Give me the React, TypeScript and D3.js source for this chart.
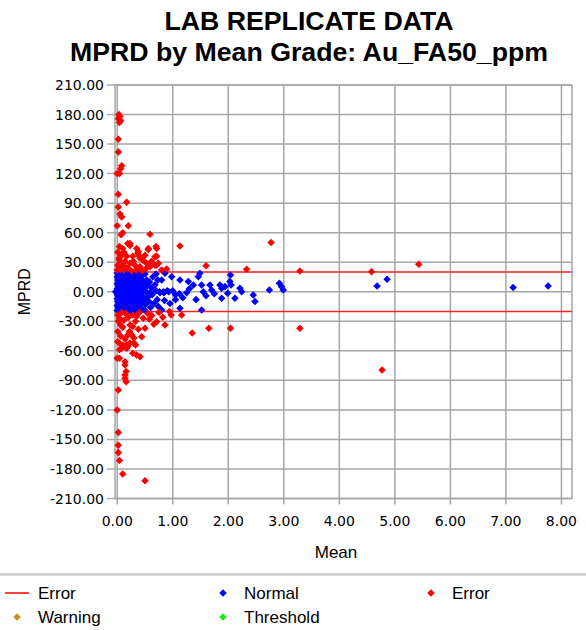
import React, { useEffect, useRef } from 'react';
import { select, scaleLinear, range, symbol, symbolDiamond2 } from 'd3';

// chart values
const titleLines = ['LAB REPLICATE DATA', 'MPRD by Mean Grade: Au_FA50_ppm'];
const xTicks = [0, 1, 2, 3, 4, 5, 6, 7, 8];
const yTicks = range(-210, 211, 30);
const errorLimits = [20, -20];

const normalPoints: [number, number][] = [
  [0.02, 18], [0.05, 15], [0.08, 19], [0.11, 17], [0.14, 19], [0.17, 16], [0.2, 18], [0.23, 15], [0.26, 19], [0.3, 17],
  [0.34, 18], [0.38, 16], [0.42, 19], [0.46, 17], [0.5, 18],
  [0.01, 12], [0.04, 10], [0.07, 13], [0.1, 11], [0.13, 14], [0.16, 9], [0.19, 12], [0.22, 10], [0.25, 13], [0.28, 11],
  [0.31, 8], [0.35, 12], [0.39, 10], [0.43, 13], [0.48, 9], [0.53, 12], [0.58, 10],
  [0.02, 6], [0.05, 4], [0.08, 7], [0.11, 5], [0.14, 3], [0.17, 6], [0.2, 4], [0.23, 7], [0.26, 5], [0.29, 3],
  [0.32, 6], [0.36, 4], [0.4, 7], [0.44, 5], [0.49, 3], [0.55, 6], [0.62, 4], [0.68, 7],
  [0.01, 0], [0.04, -1], [0.07, 1], [0.1, 0], [0.13, -1], [0.16, 1], [0.19, 0], [0.22, -1], [0.25, 1], [0.28, 0],
  [0.31, -1], [0.34, 1], [0.38, 0], [0.42, -1], [0.47, 1], [0.52, 0], [0.58, -1], [0.64, 0], [0.7, 1], [0.76, 0],
  [0.83, 0], [0.9, 1], [-0.03, 0],
  [0.02, -5], [0.05, -3], [0.08, -6], [0.11, -4], [0.14, -7], [0.17, -3], [0.2, -5], [0.23, -6], [0.26, -4], [0.29, -7],
  [0.33, -3], [0.37, -5], [0.41, -6], [0.45, -4], [0.5, -7], [0.56, -5], [0.63, -3],
  [0.01, -10], [0.04, -12], [0.07, -9], [0.1, -11], [0.13, -13], [0.16, -10], [0.19, -12], [0.22, -9], [0.25, -11],
  [0.28, -13], [0.32, -10], [0.36, -12], [0.4, -9], [0.45, -11], [0.51, -13], [0.57, -10],
  [0.02, -16], [0.05, -18], [0.08, -15], [0.11, -17], [0.14, -19], [0.17, -16], [0.2, -18], [0.23, -15], [0.27, -17],
  [0.31, -19], [0.35, -16], [0.39, -18], [0.44, -17], [0.5, -19], [0.6, -16],
  [0.0, 15], [0.03, 14], [0.06, 17], [0.09, 15], [0.12, 12], [0.15, 14], [0.18, 18], [0.21, 13], [0.24, 16], [0.27, 14],
  [0.3, 12], [0.33, 15], [0.36, 14], [0.4, 15], [0.44, 11],
  [0.0, 8], [0.03, 8], [0.06, 9], [0.09, 8], [0.12, 9], [0.15, 7], [0.18, 9], [0.21, 8], [0.24, 9], [0.27, 8], [0.3, 9],
  [0.34, 8], [0.38, 9], [0.42, 8], [0.46, 10],
  [0.0, 3], [0.03, 2], [0.06, 3], [0.09, 2], [0.12, 3], [0.15, 2], [0.18, 3], [0.21, 2], [0.24, 3], [0.27, 2], [0.3, 3],
  [0.34, 3], [0.38, 2], [0.42, 3],
  [0.0, -3], [0.03, -3], [0.06, -2], [0.09, -3], [0.12, -2], [0.15, -3], [0.18, -2], [0.21, -3], [0.24, -2], [0.27, -3],
  [0.31, -3], [0.35, -2], [0.39, -3], [0.43, -2],
  [0.0, -7], [0.03, -8], [0.06, -8], [0.09, -8], [0.12, -8], [0.15, -7], [0.18, -8], [0.21, -8], [0.24, -8], [0.27, -9],
  [0.3, -8], [0.34, -8], [0.38, -8], [0.43, -8],
  [0.0, -14], [0.03, -14], [0.06, -13], [0.09, -14], [0.12, -15], [0.15, -14], [0.18, -14], [0.21, -13], [0.24, -14],
  [0.27, -15], [0.3, -14], [0.34, -14], [0.38, -14], [0.42, -14],
  [0.0, -19], [0.04, -20], [0.07, -19], [0.1, -20], [0.13, -20], [0.16, -19], [0.19, -20], [0.22, -19], [0.25, -20],
  [0.29, -20], [0.33, -19], [0.37, -20], [0.41, -20],
  [0.0, 19], [0.04, 20], [0.07, 20], [0.1, 19], [0.13, 20], [0.16, 20], [0.19, 19], [0.22, 20], [0.25, 20], [0.28, 19],
  [0.32, 20], [0.36, 20], [0.4, 19],
  [0.64, 15], [0.7, 18], [0.73, 12], [0.8, 12], [0.86, 18.8], [0.98, 15.3], [1.13, 12], [1.28, 10.3], [1.37, 6.9],
  [1.49, 18.8], [1.46, 15.3], [1.52, 6.9], [1.67, 6.9], [1.7, 1.8], [1.85, 6.9], [1.88, 3.5], [1.94, 5.2], [2.03, 10.3],
  [2.04, 17], [2.05, 6.9], [1.99, -1.5], [2.21, 3.5], [2.24, 0], [2.45, -3.2], [2.48, -10], [2.12, -6.6], [1.88, -6.6],
  [1.55, 0], [2.74, 1.8], [2.92, 8.6], [2.96, 5], [2.99, 1.8], [1.52, -18.5], [1.13, -16.8], [0.8, -18.5],
  [0.77, -1], [0.84, -1], [0.93, 0], [1.0, 1], [1.05, -3], [1.12, -2], [1.18, -6], [1.25, -1], [1.3, 3], [1.42, -8],
  [1.6, -4], [1.75, -2], [0.72, -8], [0.66, -12], [0.74, -15], [0.85, -9], [0.95, -12], [1.05, -8],
  [4.68, 5.9], [4.86, 12.7], [7.13, 4.2], [7.76, 5.9],
];

const errorPoints: [number, number][] = [
  [0.03, 180], [0.05, 178], [0.02, 176], [0.06, 174], [0.04, 172], [0.02, 155], [0.02, 142], [0.08, 128], [0.06, 125],
  [0.0, 120], [0.04, 120], [0.02, 99], [0.02, 86], [0.17, 91], [0.05, 79], [0.08, 76], [0.0, 67], [0.2, 67], [0.1, 60],
  [0.07, 58], [0.59, 58.4], [0.23, 49], [0.04, 46], [0.1, 44], [1.13, 46.5], [0.7, 46], [0.56, 43], [0.68, 35.6],
  [1.6, 26.5], [0.89, 23], [2.77, 50], [2.33, 22.8], [3.29, 21], [4.58, 20.4], [5.43, 27.9],
  [0.01, 40], [0.08, 37], [0.17, 36], [0.04, 32], [0.14, 31], [0.23, 29], [0.32, 27], [0.01, 27], [0.28, 36], [0.37, 39],
  [0.41, 34], [0.46, 32], [0.53, 29], [0.71, 36], [0.59, 25.5], [0.68, 27], [0.74, 29], [0.19, 24], [0.41, 25.5],
  [0.53, 24], [0.19, 49], [0.23, 47], [0.35, 44], [0.56, 44], [0.71, 44], [0.38, 41], [0.4, 36], [0.71, 27], [0.06, 23],
  [0.12, 22], [0.26, 21], [0.34, 22], [0.45, 21], [0.09, 27], [0.15, 25], [0.0, 22], [0.03, 34], [0.12, 40], [0.29, 31],
  [0.5, 37], [0.62, 31], [0.8, 22],
  [0.86, -33.7], [1.35, -42], [1.65, -37], [2.04, -37], [3.29, -37], [0.94, -20], [0.97, -23.5], [1.16, -23.5],
  [4.77, -79.4],
  [0.01, -23.5], [0.04, -27], [0.02, -30], [0.06, -33.7], [0.28, -23.5], [0.35, -25], [0.47, -27], [0.23, -33.7],
  [0.28, -35.4], [0.5, -37], [0.71, -30.4], [0.01, -40.5], [0.19, -43.9], [0.26, -43.9], [0.22, -40.5], [0.44, -45.6],
  [0.01, -50.7], [0.04, -52.3], [0.1, -54], [0.17, -54], [0.23, -52], [0.3, -52], [0.33, -54], [0.19, -55.7],
  [0.17, -57.4], [0.08, -57.4], [0.04, -59], [0.28, -62.4], [0.35, -64.2], [0.41, -65.9], [0.0, -67.5], [0.04, -67.5],
  [0.14, -71], [0.14, -74.3], [0.16, -81], [0.14, -84.5], [0.14, -87.8], [0.16, -91.3], [0.02, -99.7], [0.0, -120],
  [0.02, -143], [0.02, -156], [0.02, -163.4], [0.04, -171.5], [0.1, -185], [0.5, -192],
  [0.08, -21], [0.15, -22], [0.2, -26], [0.4, -21], [0.55, -22], [0.62, -24], [0.75, -21], [0.82, -26], [0.12, -29],
  [0.33, -30], [0.58, -28], [0.66, -33], [0.1, -36], [0.38, -38], [0.06, -45], [0.14, -48], [0.3, -47],
];

const legendItems = [
  { label: 'Error', kind: 'line', color: '#ff0000' },
  { label: 'Normal', kind: 'diamond', color: '#0000ff' },
  { label: 'Error', kind: 'diamond', color: '#ff0000' },
  { label: 'Warning', kind: 'diamond', color: '#c8901e' },
  { label: 'Threshold', kind: 'diamond', color: '#11ee11' },
];

const W = 586;
const H = 630;

const Chart = () => {
  const ref = useRef<SVGSVGElement>(null);

  useEffect(() => {
    const svg = select(ref.current);
    svg.selectAll('*').remove();

    const left = 115, right = 572, top = 85, bottom = 498.5;
    const x = scaleLinear().domain([-0.04, 8.19]).range([left, right]);
    const y = scaleLinear().domain([-210, 210]).range([bottom, top]);
    const grid = '#a6a6a6';
    const diamond = symbol().type(symbolDiamond2).size(36);

    // title
    svg.append('g')
      .selectAll('text')
      .data(titleLines)
      .enter()
      .append('text')
      .attr('x', 309)
      .attr('y', (d, i) => 30 + i * 31)
      .attr('text-anchor', 'middle')
      .style('font-family', 'Liberation Sans, Arial, sans-serif')
      .style('font-size', '26.7px')
      .style('font-weight', 'bold')
      .text(d => d);

    // grid
    svg.append('g')
      .selectAll('line')
      .data(yTicks)
      .enter()
      .append('line')
      .attr('x1', left - 8)
      .attr('x2', right)
      .attr('y1', d => y(d))
      .attr('y2', d => y(d))
      .style('stroke', grid)
      .style('stroke-width', 1.5);

    svg.append('g')
      .selectAll('line')
      .data(xTicks)
      .enter()
      .append('line')
      .attr('x1', d => x(d))
      .attr('x2', d => x(d))
      .attr('y1', top)
      .attr('y2', bottom + 6)
      .style('stroke', grid)
      .style('stroke-width', 1.5);

    svg.append('rect')
      .attr('x', left)
      .attr('y', top)
      .attr('width', right - left)
      .attr('height', bottom - top)
      .style('fill', 'none')
      .style('stroke', grid)
      .style('stroke-width', 1.5);

    // tick labels
    svg.append('g')
      .selectAll('text')
      .data(yTicks)
      .enter()
      .append('text')
      .attr('x', left - 11)
      .attr('y', d => y(d) + 5)
      .attr('text-anchor', 'end')
      .style('font-family', 'DejaVu Sans, sans-serif')
      .style('font-size', '14px')
      .text(d => d.toFixed(2));

    svg.append('g')
      .selectAll('text')
      .data(xTicks)
      .enter()
      .append('text')
      .attr('x', d => x(d))
      .attr('y', bottom + 27)
      .attr('text-anchor', 'middle')
      .style('font-family', 'DejaVu Sans, sans-serif')
      .style('font-size', '14px')
      .text(d => d.toFixed(2));

    // axis titles
    svg.append('text')
      .attr('x', 336)
      .attr('y', 558)
      .attr('text-anchor', 'middle')
      .style('font-family', 'Liberation Sans, Arial, sans-serif')
      .style('font-size', '17px')
      .text('Mean');

    svg.append('text')
      .attr('transform', `translate(30, ${y(0)}) rotate(-90)`)
      .attr('text-anchor', 'middle')
      .style('font-family', 'Liberation Sans, Arial, sans-serif')
      .style('font-size', '16px')
      .text('MPRD');

    // error limit lines
    svg.append('g')
      .selectAll('line')
      .data(errorLimits)
      .enter()
      .append('line')
      .attr('x1', left)
      .attr('x2', right)
      .attr('y1', d => y(d))
      .attr('y2', d => y(d))
      .style('stroke', '#ff2020')
      .style('stroke-width', 1.5);

    // points
    svg.append('g')
      .selectAll('path')
      .data(normalPoints)
      .enter()
      .append('path')
      .attr('d', diamond)
      .attr('transform', d => `translate(${x(d[0])}, ${y(d[1])})`)
      .style('fill', '#0000ff');

    svg.append('g')
      .selectAll('path')
      .data(errorPoints)
      .enter()
      .append('path')
      .attr('d', diamond)
      .attr('transform', d => `translate(${x(d[0])}, ${y(d[1])})`)
      .style('fill', '#ff0000');

    // legend
    svg.append('line')
      .attr('x1', 0).attr('x2', W).attr('y1', 574).attr('y2', 574)
      .style('stroke', '#a0a0a0').style('stroke-width', 1);
    svg.append('line')
      .attr('x1', 0).attr('x2', W).attr('y1', 575.5).attr('y2', 575.5)
      .style('stroke', '#dcdcdc').style('stroke-width', 1);

    const cols = [0, 206, 414];
    const legend = svg.append('g')
      .selectAll('g')
      .data(legendItems)
      .enter()
      .append('g')
      .attr('transform', (d, i) => `translate(${cols[i % 3]}, ${593 + Math.floor(i / 3) * 24})`);

    legend.filter(d => d.kind === 'line')
      .append('line')
      .attr('x1', 5).attr('x2', 29).attr('y1', 0).attr('y2', 0)
      .style('stroke', d => d.color).style('stroke-width', 1.5);

    legend.filter(d => d.kind === 'diamond')
      .append('path')
      .attr('d', diamond)
      .attr('transform', 'translate(17, 0)')
      .style('fill', d => d.color);

    legend.append('text')
      .attr('x', 38)
      .attr('y', 6)
      .style('font-family', 'Liberation Sans, Arial, sans-serif')
      .style('font-size', '17px')
      .text(d => d.label);
  }, []);

  return (
    <svg ref={ref} width={W} height={H} style={{ position: 'absolute', left: 0, top: 0, background: '#fff' }} />
  );
};

export default function App() {
  return <Chart />;
}
